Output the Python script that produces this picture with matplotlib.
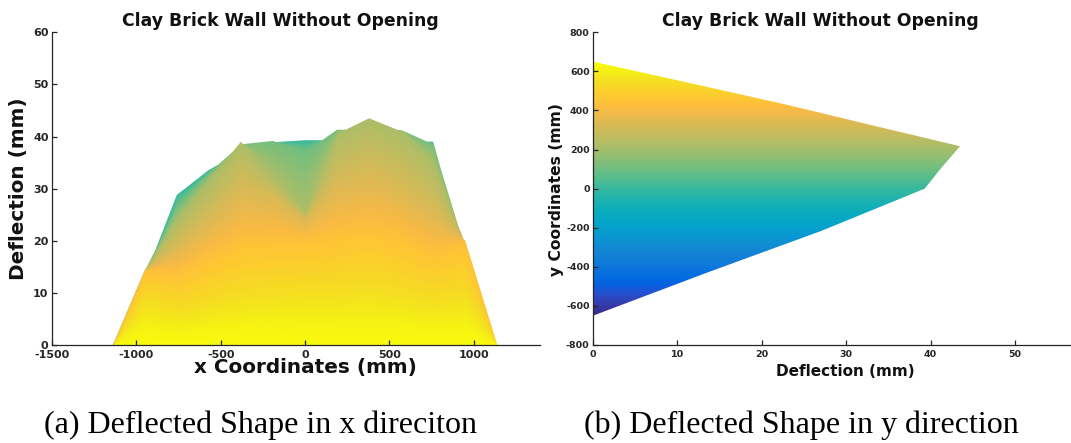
import numpy as np
import matplotlib
matplotlib.use("Agg")
import matplotlib.pyplot as plt
from matplotlib.colors import LinearSegmentedColormap, Normalize
from matplotlib.patches import Polygon

plt.rcParams["axes.unicode_minus"] = False

# ---------------- wall mesh and nodal deflections (mm) ----------------
x_nodes = [-1140, -950, -760, -570, -380, -190, 0, 190, 380, 570, 760, 950, 1140]
y_nodes = [-650, -433, -217, 0, 108, 217, 325, 433, 541, 650]

defl_y_m650 = [0, 0, 0, 0, 0, 0, 0, 0, 0, 0, 0, 0, 0]
defl_y_m433 = [0, 4.5, 9.0, 10.5, 12.0, 12.8, 13.3, 13.2, 13.0, 12.0, 11.0, 6.0, 0]
defl_y_m217 = [0, 9.0, 18.0, 21.0, 24.0, 25.5, 27.0, 26.5, 26.0, 25.0, 24.0, 12.0, 0]
defl_y_0 = [0, 13.0, 28.8, 33.6, 37.0, 38.9, 39.3, 39.3, 38.0, 39.2, 39.0, 17.0, 0]
defl_y_108 = [0, 14.2, 26.5, 33.0, 38.5, 39.15, 37.0, 41.3, 41.3, 41.25, 38.5, 18.5, 0]
defl_y_217 = [0, 14.4, 24.0, 31.5, 39.0, 32.3, 25.6, 40.5, 43.5, 41.0, 35.0, 19.5, 0]
defl_y_325 = [0, 14.4, 19.0, 24.0, 30.0, 28.5, 24.0, 31.0, 33.0, 30.0, 26.0, 20.0, 0]
defl_y_433 = [0, 14.4, 14.0, 17.0, 20.0, 20.5, 20.5, 21.5, 22.6, 21.0, 18.0, 20.0, 0]
defl_y_541 = [0, 9.0, 7.0, 8.5, 10.0, 10.5, 11.0, 11.0, 11.4, 10.5, 9.0, 10.0, 0]
defl_y_650 = [0, 0, 0, 0, 0, 0, 0, 0, 0, 0, 0, 0, 0]

x_ticks = [-1500, -1000, -500, 0, 500, 1000]
defl_ticks_left = [0, 10, 20, 30, 40, 50, 60]
defl_ticks_right = [0, 10, 20, 30, 40, 50]
y_ticks = [-800, -600, -400, -200, 0, 200, 400, 600, 800]

title_text = "Clay Brick Wall Without Opening"
caption_a = "(a) Deflected Shape in x direciton"
caption_b = "(b) Deflected Shape in y direction"

# ---------------- parula colour map ----------------
parula_pts = [
    (0.2081, 0.1663, 0.5292), (0.2123, 0.2138, 0.6270), (0.1959, 0.2645, 0.7279),
    (0.1253, 0.3242, 0.8303), (0.0117, 0.3875, 0.8820), (0.0165, 0.4266, 0.8786),
    (0.0498, 0.4586, 0.8641), (0.0723, 0.4887, 0.8467), (0.0793, 0.5200, 0.8312),
    (0.0641, 0.5570, 0.8240), (0.0343, 0.5966, 0.8199), (0.0239, 0.6287, 0.8038),
    (0.0228, 0.6535, 0.7768), (0.0384, 0.6743, 0.7436), (0.0843, 0.6928, 0.7062),
    (0.1453, 0.7098, 0.6646), (0.2178, 0.7250, 0.6193), (0.3022, 0.7376, 0.5712),
    (0.3953, 0.7459, 0.5244), (0.4871, 0.7491, 0.4840), (0.5709, 0.7485, 0.4494),
    (0.6473, 0.7456, 0.4188), (0.7184, 0.7411, 0.3905), (0.7858, 0.7356, 0.3633),
    (0.8507, 0.7299, 0.3360), (0.9140, 0.7258, 0.3063), (0.9739, 0.7314, 0.2666),
    (0.9990, 0.7653, 0.2164), (0.9880, 0.8066, 0.1794), (0.9697, 0.8481, 0.1475),
    (0.9589, 0.8949, 0.1132), (0.9661, 0.9514, 0.0755), (0.9763, 0.9831, 0.0538),
]
parula = LinearSegmentedColormap.from_list("parula", parula_pts, N=256)
norm = Normalize(vmin=min(y_nodes), vmax=max(y_nodes))

# ---------------- interpolated deflection surface (bilinear) ----------------
rows = np.array([defl_y_m650, defl_y_m433, defl_y_m217, defl_y_0, defl_y_108,
                 defl_y_217, defl_y_325, defl_y_433, defl_y_541, defl_y_650],
                dtype=float)
xf = np.linspace(x_nodes[0], x_nodes[-1], 1141)
yf = np.linspace(y_nodes[0], y_nodes[-1], 1301)
rx = np.array([np.interp(xf, x_nodes, r) for r in rows])
W = np.array([np.interp(yf, y_nodes, rx[:, j]) for j in range(xf.size)]).T

# side view along y: visible colour is the y of the nearest surface point
dgrid = np.linspace(0, 46, 921)
M = np.maximum.accumulate(W[::-1], axis=0)[::-1]
peak_y = yf[np.argmax(W, axis=0)]
front_y = np.empty((dgrid.size, xf.size))
for j in range(xf.size):
    cnt = np.searchsorted(-M[:, j], -dgrid, side="right")
    front_y[:, j] = np.where(cnt > 0, yf[np.clip(cnt - 1, 0, None)], peak_y[j])
env_x = W.max(axis=0)
env_y = W.max(axis=1)

# ---------------- figure ----------------
FW, FH = 1071, 443
fig = plt.figure(figsize=(FW / 100, FH / 100), dpi=100)
fig.patch.set_facecolor("white")


def rect(left, right, top, bottom):
    return [left / FW, 1 - bottom / FH, (right - left) / FW, (bottom - top) / FH]


axc = "#262626"


def style(ax, fs):
    for side in ("top", "right"):
        ax.spines[side].set_visible(False)
    for side in ("left", "bottom"):
        ax.spines[side].set_color(axc)
        ax.spines[side].set_linewidth(0.9)
    ax.tick_params(direction="in", length=3.6, width=0.9, color=axc,
                   labelcolor=axc, labelsize=fs)
    ax.tick_params(axis="x", pad=3.5)
    ax.tick_params(axis="y", pad=2.5)
    for lab in ax.get_xticklabels() + ax.get_yticklabels():
        lab.set_fontweight("bold")


# (a) deflection versus x
axL = fig.add_axes(rect(52, 540, 32.3, 345))
axL.set_xlim(-1500, 1393)
axL.set_ylim(0, 60)
axL.set_xticks(x_ticks)
axL.set_yticks(defl_ticks_left)
style(axL, 8)
imL = axL.imshow(front_y, extent=[xf[0], xf[-1], dgrid[0], dgrid[-1]],
                 origin="lower", aspect="auto", cmap=parula, norm=norm,
                 interpolation="bilinear", zorder=1)
clipL = Polygon(np.vstack([np.column_stack([xf, env_x]),
                           [[xf[-1], 0], [xf[0], 0]]]),
                closed=True, transform=axL.transData)
imL.set_clip_path(clipL)

# (b) y versus deflection
axR = fig.add_axes(rect(593, 1071, 32.3, 345))
axR.set_xlim(0, (1071 - 593) / 8.44)
axR.set_ylim(-800, 800)
axR.set_xticks(defl_ticks_right)
axR.set_yticks(y_ticks)
style(axR, 6.8)
imR = axR.imshow(yf[:, None], extent=[0, 46, yf[0], yf[-1]], origin="lower",
                 aspect="auto", cmap=parula, norm=norm,
                 interpolation="bilinear", zorder=1)
clipR = Polygon(np.vstack([[[0, yf[0]]], np.column_stack([env_y, yf]),
                           [[0, yf[-1]]]]),
                closed=True, transform=axR.transData)
imR.set_clip_path(clipR)


def fx(px):
    return px / FW


def fy(py):
    return 1 - py / FH


# titles and axis labels
fig.text(fx(280), fy(26), title_text, ha="center", va="baseline",
         fontsize=12.4, fontweight="bold", color="#111111")
fig.text(fx(820), fy(26), title_text, ha="center", va="baseline",
         fontsize=12.4, fontweight="bold", color="#111111")
fig.text(fx(305), fy(373), "x Coordinates (mm)", ha="center", va="baseline",
         fontsize=14.4, fontweight="bold", color="#111111")
fig.text(fx(19), fy(189), "Deflection (mm)", ha="center", va="center",
         rotation=90, fontsize=14.4, fontweight="bold", color="#111111")
fig.text(fx(845), fy(376), "Deflection (mm)", ha="center", va="baseline",
         fontsize=11, fontweight="bold", color="#111111")
fig.text(fx(557), fy(189), "y Coordinates (mm)", ha="center", va="center",
         rotation=90, fontsize=11.2, fontweight="bold", color="#111111")

# sub-figure captions
fig.text(fx(44), fy(433), caption_a, ha="left", va="baseline",
         fontsize=23, family="Liberation Serif", color="black")
fig.text(fx(584), fy(433), caption_b, ha="left", va="baseline",
         fontsize=23, family="Liberation Serif", color="black")

fig.savefig("out.png", dpi=100, facecolor="white")
